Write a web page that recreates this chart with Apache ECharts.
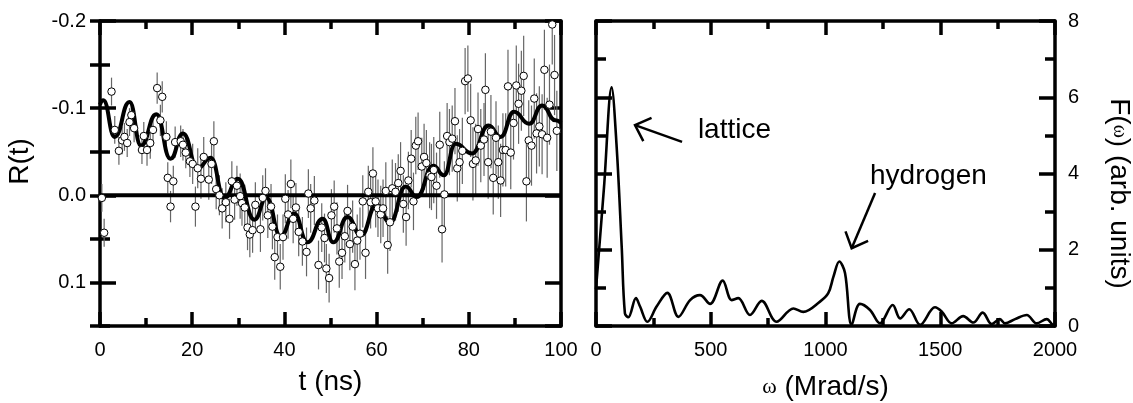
<!DOCTYPE html>
<html><head><meta charset="utf-8">
<script src="https://cdn.jsdelivr.net/npm/echarts@6/dist/echarts.min.js"></script>
<style>html,body{margin:0;padding:0;background:#fff}#c{width:1133px;height:403px}</style>
</head><body><div id="c"></div>
<script>
// ---- Left panel: R(t) data points ----
const timeNs = [0.4,0.9,2.5,3.2,4.1,4.8,5.3,5.9,6.4,6.8,7.4,9.1,9.5,10.2,10.9,11.5,12.4,13.1,13.5,14.4,14.7,15.3,15.9,16.3,17.5,18.0,18.6,19.5,20.1,20.7,21.2,21.9,22.5,23.6,24.2,24.7,25.2,
25.9,26.5,27.3,28.1,28.6,29.2,29.7,30.4,30.8,31.4,32.0,32.5,33.1,33.7,34.8,35.3,35.9,36.4,37.1,37.4,37.9,38.5,39.1,39.7,40.2,40.8,41.4,41.9,42.5,43.1,43.9,44.8,45.2,45.7,46.5,47.4,48.1,48.7,49.1,49.7,50.2,
50.8,51.4,51.9,52.5,53.1,53.7,54.2,54.8,55.3,55.8,56.4,57.0,57.6,58.2,58.7,59.2,59.8,60.3,60.9,61.4,62.0,62.4,62.9,63.4,64.1,64.7,65.2,65.8,66.4,66.9,67.5,68.0,68.5,69.0,69.8,70.3,70.8,71.5,71.9,72.4,73.0,73.7,74.2,74.7,
75.3,75.8,76.4,77.0,77.5,78.0,78.6,79.2,79.8,80.4,80.9,81.5,82.0,82.6,83.3,83.6,84.2,84.8,85.3,85.9,86.4,86.9,87.4,88.0,88.5,89.1,89.7,90.3,90.8,91.4,91.9,92.5,93.0,93.6,94.2,94.7,95.3,95.9,96.4,97.0,97.5,98.1,98.6,99.1];
const rValues = [0.003,0.043,-0.119,-0.075,-0.051,-0.063,-0.067,-0.060,-0.084,-0.092,-0.077,-0.052,-0.068,-0.052,-0.060,-0.075,-0.123,-0.086,-0.113,-0.067,-0.020,0.013,-0.016,-0.061,-0.062,-0.058,-0.049,-0.039,-0.036,0.013,-0.031,-0.019,-0.044,-0.018,-0.036,-0.062,-0.007,
0.000,0.015,0.008,0.027,-0.016,0.005,-0.011,0.001,0.009,0.014,0.037,0.045,0.040,0.011,0.039,0.003,-0.005,0.023,0.013,0.036,0.071,0.048,0.082,0.048,0.004,0.022,-0.013,0.027,0.014,0.042,0.053,0.065,-0.002,0.015,0.006,0.080,0.037,0.049,0.084,0.095,0.023,
0.013,0.038,0.076,0.066,0.047,0.018,0.056,0.036,0.079,0.052,0.044,0.007,0.066,-0.004,0.008,-0.025,0.007,0.015,0.022,0.015,-0.005,0.057,0.031,-0.008,-0.004,-0.014,-0.028,0.010,0.025,-0.017,-0.042,0.007,-0.057,-0.062,-0.033,-0.044,-0.037,-0.023,-0.021,-0.029,-0.011,-0.058,0.039,-0.001,
-0.068,-0.061,-0.065,-0.085,-0.031,-0.038,-0.051,-0.131,-0.134,-0.086,-0.036,-0.040,-0.076,-0.057,-0.064,-0.121,-0.038,-0.073,-0.020,-0.066,-0.038,-0.017,-0.052,-0.052,-0.125,-0.049,-0.083,-0.126,-0.105,-0.120,-0.137,-0.016,-0.063,-0.057,-0.111,-0.071,-0.079,-0.070,-0.144,-0.066,-0.104,-0.196,-0.138,-0.074];
// half-length of the error bars, per 10 ns decade
const errByDecade = [0.016,0.018,0.023,0.026,0.028,0.030,0.033,0.038,0.042,0.046];

// ---- Left panel: fit curve ----
const fitTime = [0,0.7,3.2,6.4,8.9,12.2,15.3,18.0,21.2,24.0,27.0,29.9,33.5,36.1,39.2,42.1,45.0,48.3,50.6,53.7,56.6,60.0,62.9,66.3,68.7,72.3,74.6,77.1,80.7,84.3,86.9,89.8,93.1,95.9,98.8,100];
const fitR = [-0.104,-0.109,-0.067,-0.107,-0.057,-0.093,-0.042,-0.071,-0.031,-0.043,0.003,-0.019,0.028,0.003,0.047,0.021,0.054,0.027,0.054,0.025,0.046,0.011,0.031,-0.010,0.002,-0.034,-0.023,-0.059,-0.048,-0.080,-0.067,-0.096,-0.082,-0.103,-0.086,-0.083];

// ---- Right panel: F(omega) ----
const omega = [0,35,68,90,112,126,141,174,192,224,264,311,359,410,453,497,552,591,620,671,722,787,860,903,976,1012,1035,1060,1085,1114,1150,1194,1237,1293,1325,1365,1412,1477,1506,1550,1600,1644,1685,1724,1760,1782,1826,1877,1920,1964,1993,2000];
const fOmega = [0.97,3.65,6.26,4.70,2.08,0.33,0.23,0.73,0.51,0.11,0.51,0.87,0.24,0.68,0.81,0.58,1.19,0.68,0.73,0.29,0.66,0.11,0.46,0.37,0.64,0.86,1.30,1.69,1.39,0.03,0.58,0.42,0.07,0.55,0.20,0.44,0.03,0.49,0.38,0.07,0.26,0.09,0.35,0.05,0.18,0.07,0.18,0.29,0.07,0.18,0.03,0.05];

// ---- Annotations (data coordinates of the right panel) ----
const annotationLabels = ['lattice','hydrogen'];
const annotationTextAt = [[444,5.14],[1194,3.92]];
const arrowFrom = [[375,4.83],[1216,3.49]];
const arrowTo = [[170,5.27],[1114,2.04]];

// ---- Axis ranges ----
const tRange = [0,100], rRange = [-0.2,0.15], wRange = [0,2000], fRange = [0,8];

const FONT = '"Liberation Sans", Arial, sans-serif';
const SERIF = '"Liberation Serif", "Times New Roman", serif';
const BLACK = '#000';
const AX = 3.5;

function xAx(grid, pos, min, max, interval, labels, name, nameGap) {
  return {
    type:'value', gridIndex:grid, position:pos, min, max, interval,
    axisLine:{show:true, onZero:false, lineStyle:{color:BLACK, width:AX}},
    axisTick:{show:true, inside:true, length:14, lineStyle:{color:BLACK, width:AX}},
    minorTick:{show:true, splitNumber:2, length:8, lineStyle:{color:BLACK, width:AX}},
    splitLine:{show:false}, minorSplitLine:{show:false},
    axisLabel:{show:labels, color:BLACK, fontSize:20, fontFamily:FONT, margin:14, formatter:v=>String(v)},
    name: name || '', nameLocation:'middle', nameGap: nameGap || 0,
    nameTextStyle:{color:BLACK, fontSize:28, fontFamily:FONT, rich:{w:{fontFamily:SERIF, fontSize:22, color:BLACK}}}
  };
}
function yAx(grid, pos, min, max, interval, opts) {
  return Object.assign({
    type:'value', gridIndex:grid, position:pos, min, max, interval,
    axisLine:{show:true, onZero:false, lineStyle:{color:BLACK, width:AX}},
    axisTick:{show:true, inside:true, length:16, lineStyle:{color:BLACK, width:AX}},
    minorTick:{show:false},
    splitLine:{show:false},
    axisLabel:{show:false}
  }, opts);
}

const xAxis = [
  xAx(0,'bottom',tRange[0],tRange[1],20,true,'t (ns)',42),
  xAx(0,'top',tRange[0],tRange[1],20,false),
  xAx(1,'bottom',wRange[0],wRange[1],500,true,'{w|ω} (Mrad/s)',47),
  xAx(1,'top',wRange[0],wRange[1],500,false)
];
const yAxis = [
  yAx(0,'left',rRange[0],rRange[1],0.1,{inverse:true,
    axisLabel:{show:true, color:BLACK, fontSize:20, fontFamily:FONT, margin:14, showMaxLabel:false,
      formatter:v=>Math.abs(v)<1e-9?'0.0':v.toFixed(1)},
    name:'R(t)', nameLocation:'middle', nameGap:66, nameRotate:90,
    nameTextStyle:{color:BLACK, fontSize:28, fontFamily:FONT, padding:[0,0,0,24]}}),
  yAx(0,'left',rRange[0],rRange[1],0.05,{inverse:true, axisLine:{show:false}, axisTick:{show:true,inside:true,length:10,lineStyle:{color:BLACK,width:AX}}}),
  yAx(0,'right',rRange[0],rRange[1],0.1,{inverse:true}),
  yAx(0,'right',rRange[0],rRange[1],0.05,{inverse:true, axisLine:{show:false}, axisTick:{show:true,inside:true,length:10,lineStyle:{color:BLACK,width:AX}}}),
  yAx(1,'right',fRange[0],fRange[1],2,{
    minorTick:{show:true, splitNumber:2, length:10, lineStyle:{color:BLACK, width:AX}},
    axisLabel:{show:true, color:BLACK, fontSize:20, fontFamily:FONT, margin:13, formatter:v=>String(v)},
    name:'F({w|ω}) (arb. units)', nameLocation:'middle', nameGap:50, nameRotate:-90,
    nameTextStyle:{color:BLACK, fontSize:28, fontFamily:FONT, padding:[0,0,0,40], rich:{w:{fontFamily:SERIF, fontSize:20, color:BLACK}}}}),
  yAx(1,'left',fRange[0],fRange[1],2,{
    minorTick:{show:true, splitNumber:2, length:10, lineStyle:{color:BLACK, width:AX}}})
];

const points = timeNs.map((t,i)=>[t, rValues[i], errByDecade[Math.min(9, Math.floor(t/10))]]);
const fitData = fitTime.map((t,i)=>[t, fitR[i]]);
const fData = omega.map((w,i)=>[w, fOmega[i]]);
const annData = annotationLabels.map((s,i)=>[arrowFrom[i][0],arrowFrom[i][1],arrowTo[i][0],arrowTo[i][1],annotationTextAt[i][0],annotationTextAt[i][1],i]);

const option = {
  backgroundColor:'#fff',
  animation:false,
  grid:[
    {left:100, top:21, width:461, height:305, outerBoundsMode:'none', containLabel:false},
    {left:596, top:21, width:459, height:305, outerBoundsMode:'none', containLabel:false}
  ],
  xAxis, yAxis,
  series:[
    {
      type:'custom', name:'error bars', xAxisIndex:0, yAxisIndex:0, z:1, clip:true, silent:true,
      dimensions:['t','r','e'], encode:{x:0, y:1},
      data: points,
      renderItem(params, api){
        const t=api.value(0), r=api.value(1), e=api.value(2);
        const a=api.coord([t,r-e]), b=api.coord([t,r+e]);
        return {type:'line', shape:{x1:a[0],y1:a[1],x2:b[0],y2:b[1]}, style:{stroke:'#666', lineWidth:1.2}};
      }
    },
    {
      type:'line', name:'zero', xAxisIndex:0, yAxisIndex:0, z:2, silent:true,
      data:[[tRange[0],0],[tRange[1],0]], showSymbol:false, symbol:'none',
      lineStyle:{color:BLACK, width:4}
    },
    {
      type:'line', name:'fit', xAxisIndex:0, yAxisIndex:0, z:3, silent:true,
      data: fitData, smooth:0.5, smoothMonotone:'x', showSymbol:false, symbol:'none',
      lineStyle:{color:BLACK, width:4}
    },
    {
      type:'scatter', name:'R(t)', xAxisIndex:0, yAxisIndex:0, z:4, silent:true,
      data: points.map(p=>[p[0],p[1]]), symbol:'circle', symbolSize:7.5,
      itemStyle:{color:'#fff', borderColor:BLACK, borderWidth:1, opacity:1}
    },
    {
      type:'line', name:'F(ω)', xAxisIndex:2, yAxisIndex:4, z:3, silent:true,
      data: fData, smooth:0.35, showSymbol:false, symbol:'none',
      lineStyle:{color:BLACK, width:2.6}
    },
    {
      type:'custom', name:'annotations', xAxisIndex:2, yAxisIndex:4, z:5, silent:true, clip:false,
      encode:{x:[0,2,4], y:[1,3,5]},
      data: annData,
      renderItem(params, api){
        const from=api.coord([api.value(0),api.value(1)]);
        const to=api.coord([api.value(2),api.value(3)]);
        const txt=api.coord([api.value(4),api.value(5)]);
        const idx=api.value(6);
        const ang=Math.atan2(from[1]-to[1], from[0]-to[0]);
        const L=18, h=0.75;
        const a1=[to[0]+L*Math.cos(ang+h), to[1]+L*Math.sin(ang+h)];
        const a2=[to[0]+L*Math.cos(ang-h), to[1]+L*Math.sin(ang-h)];
        return {type:'group', children:[
          {type:'polyline', shape:{points:[from,to]}, style:{stroke:BLACK, lineWidth:2.5, fill:null}},
          {type:'polyline', shape:{points:[a1,to,a2]}, style:{stroke:BLACK, lineWidth:2.5, fill:null, lineJoin:'miter'}},
          {type:'text', x:txt[0], y:txt[1], style:{text:annotationLabels[idx], fill:BLACK, fontSize:28, fontFamily:FONT, align:'left', verticalAlign:'middle'}}
        ]};
      }
    }
  ]
};
const chart = echarts.init(document.getElementById('c'));
chart.setOption(option);
</script>
</body></html>
